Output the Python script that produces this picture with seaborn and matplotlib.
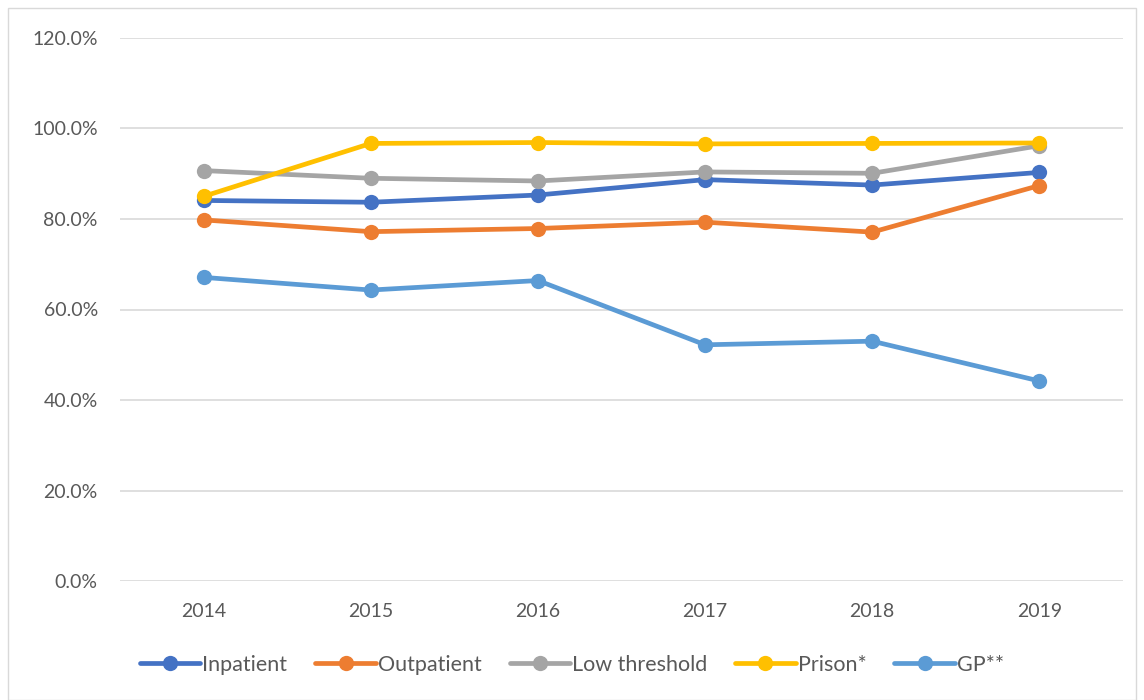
import matplotlib
matplotlib.use("Agg")
import matplotlib.pyplot as plt
from matplotlib.patches import Rectangle
from matplotlib.ticker import FuncFormatter
import pandas as pd
import seaborn as sns

years = [2014, 2015, 2016, 2017, 2018, 2019]
inpatient = [84.1, 83.7, 85.3, 88.7, 87.5, 90.3]
outpatient = [79.8, 77.2, 77.9, 79.3, 77.1, 87.4]
low_threshold = [90.7, 89.0, 88.4, 90.4, 90.1, 96.2]
prison = [85.0, 96.7, 96.9, 96.6, 96.7, 96.8]
gp = [67.1, 64.3, 66.4, 52.2, 53.0, 44.2]

series_names = ["Inpatient", "Outpatient", "Low threshold", "Prison*", "GP**"]
series_values = [inpatient, outpatient, low_threshold, prison, gp]
colors = ["#4472C4", "#ED7D31", "#A5A5A5", "#FFC000", "#5B9BD5"]

df = pd.concat(
    [pd.DataFrame({"year": years, "value": vals, "series": name})
     for name, vals in zip(series_names, series_values)],
    ignore_index=True,
)

sns.set_theme(style="white")
plt.rcParams["font.family"] = ["Lato", "DejaVu Sans"]

fig = plt.figure(figsize=(11.44, 7.0), dpi=100)
ax = fig.add_axes([120 / 1144, 1 - 581 / 700, (1123 - 120) / 1144, (581 - 38) / 700])

sns.lineplot(
    data=df, x="year", y="value", hue="series",
    hue_order=series_names, palette=colors,
    marker="o", markersize=11, markeredgewidth=0,
    linewidth=3.4, ax=ax, legend=True,
)

ax.set_xlim(2013.5, 2019.5)
ax.set_ylim(0, 120)
ax.set_xticks(years)
ax.set_xticklabels([str(y) for y in years])
ax.set_yticks([0, 20, 40, 60, 80, 100, 120])
ax.yaxis.set_major_formatter(FuncFormatter(lambda v, p: f"{v:.1f}%"))
ax.grid(axis="y", color="#D9D9D9", linewidth=1.2)
ax.grid(axis="x", visible=False)
ax.set_axisbelow(True)
for s in ax.spines.values():
    s.set_visible(False)
ax.tick_params(axis="both", length=0, labelsize=14, colors="#595959")
ax.tick_params(axis="y", pad=16)
ax.tick_params(axis="x", pad=16)
ax.set_xlabel("")
ax.set_ylabel("")

handles, labels = ax.get_legend_handles_labels()
ax.legend(
    handles, labels, loc="center", bbox_to_anchor=(0.5, 1 - 665 / 700),
    bbox_transform=fig.transFigure, ncol=5, frameon=False,
    fontsize=15.5, labelcolor="#595959", handlelength=2.8,
    handletextpad=0.1, columnspacing=1.3,
)

fig.patches.append(Rectangle((8 / 1144, 0.0), 1 - 16 / 1144, 1 - 8 / 700,
                             transform=fig.transFigure, fill=False,
                             edgecolor="#D9D9D9", linewidth=1.0))

fig.savefig("out.png", dpi=100, facecolor="white")
